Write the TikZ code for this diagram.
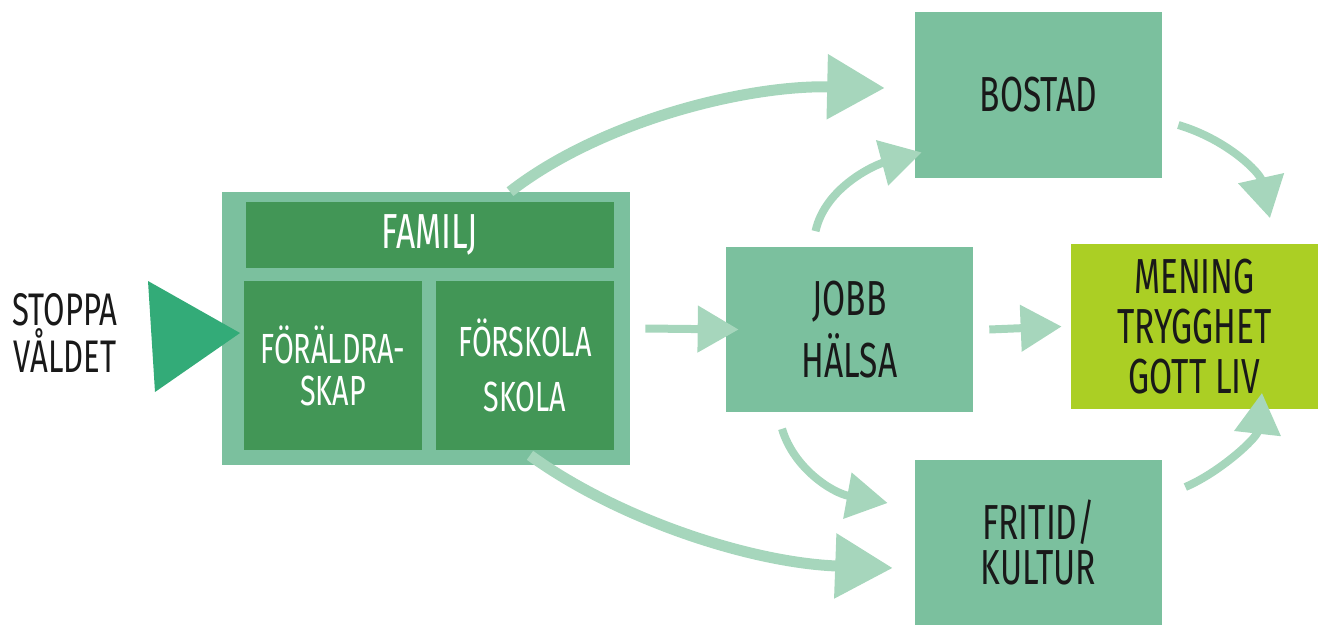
\documentclass[tikz,border=0pt]{standalone}
\usepackage{fontspec}
\setmainfont[FakeStretch=0.68]{Fira Sans}
\usetikzlibrary{arrows.meta}
\definecolor{boxgreen}{RGB}{123,192,158}
\definecolor{darkgreen}{RGB}{66,150,86}
\definecolor{stopgreen}{RGB}{51,171,120}
\definecolor{lime}{RGB}{171,207,36}
\definecolor{pilgreen}{RGB}{166,214,188}
\definecolor{ink}{RGB}{25,25,25}
\begin{document}
\begin{tikzpicture}[x=0.02cm,y=-0.02cm]
\tikzstyle{every node}=[rectangle,inner sep=0pt,align=center,text=ink,font=\fontsize{28}{28.5}\selectfont]
\tikzstyle{ruta}=[fill=boxgreen,minimum width=4.94cm,minimum height=3.32cm]
\tikzstyle{mork}=[fill=darkgreen,text=white]
\tikzstyle{liten}=[font=\fontsize{24}{25}\selectfont]
\tikzstyle{pil}=[draw=pilgreen,line width=0.16cm,-{Triangle[length=0.82cm,width=0.9cm]}]
\tikzstyle{storpil}=[draw=pilgreen,line width=0.22cm,-{Triangle[length=1.15cm,width=1.25cm]}]
\useasboundingbox (0,0) rectangle (1318,626);
% vanster
\node[font=\fontsize{26}{27}\selectfont] (stoppa) at (65,333) {STOPPA\\VÅLDET};
\node[fill=boxgreen,minimum width=8.16cm,minimum height=5.46cm](familj) at (426,328.5) {};
\fill[stopgreen] (148,281) -- (240,333) -- (155,392) -- cycle;
\node[mork,minimum width=7.36cm,minimum height=1.32cm](rubrik) at (430,235) {FAMILJ};
\node[mork,liten,minimum width=3.56cm,minimum height=3.38cm](foralder) at (333,365.5) {FÖRÄLDRA-\\[-1pt]SKAP};
\node[mork,liten,minimum width=3.56cm,minimum height=3.38cm](skola) at (525,365.5) {FÖRSKOLA\\[6pt]SKOLA};
% hoger
\node[ruta](bostad) at (1038.5,95) {BOSTAD};
\node[ruta](jobb) at (849.5,329.5) {JOBB\\[5pt]HÄLSA};
\node[ruta,fill=lime](mening) at (1194.5,326.5) {MENING\\TRYGGHET\\GOTT LIV};
\node[ruta](fritid) at (1038.5,542.5) {FRITID/\\[-3pt]KULTUR};
% pilar
\draw[storpil] ([xshift=1.68cm]familj.north) .. controls +(90,-70) and +(-140,-3) .. ([xshift=-0.6cm,yshift=0.14cm]bostad.west);
\draw[pil] ([xshift=-0.68cm,yshift=0.3cm]jobb.north) .. controls +(10,-45) and +(-45,12) .. ([xshift=0.14cm,yshift=0.52cm]bostad.south west);
\draw[pil] ([xshift=0.32cm,yshift=-0.6cm]bostad.east) .. controls +(50,15) and +(-10,-45) .. ([xshift=1.51cm,yshift=0.5cm]mening.north);
\draw[pil] ([xshift=0.32cm]jobb.east) -- ([xshift=-0.18cm]mening.west);
\draw[pil] ([xshift=0.3cm]familj.east) -- ([xshift=0.26cm]jobb.west);
\draw[pil] ([xshift=-1.35cm,yshift=-0.32cm]jobb.south) .. controls +(12,40) and +(-55,-10) .. ([xshift=-0.54cm,yshift=0.79cm]fritid.west);
\draw[storpil] ([xshift=2.08cm,yshift=0.2cm]familj.south) .. controls +(90,65) and +(-140,-5) .. ([xshift=-0.44cm,yshift=-0.51cm]fritid.west);
\draw[pil] ([xshift=0.46cm,yshift=1.11cm]fritid.east) .. controls +(35,-15) and +(-5,45) .. ([xshift=1.35cm,yshift=0.34cm]mening.south);
\end{tikzpicture}
\end{document}
